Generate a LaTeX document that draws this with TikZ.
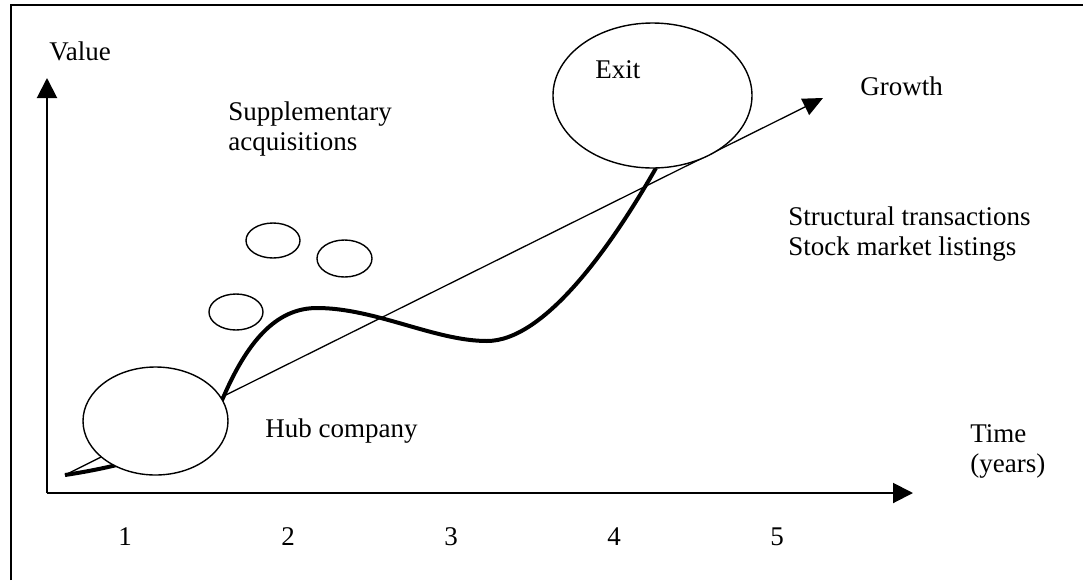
\documentclass[tikz,border=0pt]{standalone}
\usepackage{fontspec}
\setmainfont{Liberation Serif}
\usepackage{tikz}
\usetikzlibrary{shapes.geometric, arrows.meta, positioning, calc}

\begin{document}
\begin{tikzpicture}[
        x=0.5pt, y=-0.5pt,
        blob/.style={draw, ellipse, fill=white, line width=0.7pt, inner sep=0pt},
        axis/.style={-{Triangle[length=10pt, width=10pt]}, line width=1pt},
        trend/.style={-{Triangle[length=10pt, width=9pt]}, line width=0.65pt},
        value/.style={line width=2pt},
        txt/.style={anchor=base west, inner sep=0pt, font=\fontsize{13.5}{15}\selectfont}
    ]
        \useasboundingbox (0,0) rectangle (1083,580);
        \draw [line width=1pt] (11,580) -- (11,5) -- (1083,5);

        % axes
        \coordinate (origin) at (47,493);
        \coordinate (ytip) at (47,78);
        \coordinate (xtip) at (913,493);
        \draw [axis] (origin) -- (ytip);
        \draw [axis] (origin) -- (xtip);

        % growth line and value curve, drawn below the companies
        \coordinate (start) at (65,475);
        \coordinate (growthtip) at (823,98);
        \coordinate (hubout) at (223,398);
        \coordinate (exitin) at (656,168);
        \draw [trend] (start) -- (growthtip);
        \draw [value] (start) .. controls (150,462) and (205,440) .. (hubout)
            .. controls (250,335) and (280,308) .. (317,308)
            .. controls (375,308) and (435,341) .. (487,341)
            .. controls (545,341) and (612,245) .. (exitin);

        % companies
        \node (hub) [blob, minimum width=72.5pt, minimum height=54pt] at (155.5,421) {};
        \node (exit) [blob, minimum width=99.5pt, minimum height=72.5pt] at (652.5,95.5) {};
        \node (acqa) [blob, minimum width=27pt, minimum height=17.5pt] at (273,240.5) {};
        \node (acqb) [blob, minimum width=27.5pt, minimum height=18.5pt] at (344.5,258.5) {};
        \node (acqc) [blob, minimum width=27pt, minimum height=18pt] at (236,312) {};

        % labels
        \node (valuelbl) [txt] at (49,60) {Value};
        \node (supplbl) [txt, align=left] at (228,150) {Supplementary\\acquisitions};
        \node (exitlbl) [txt] at (595,78) {Exit};
        \node (growthlbl) [txt] at (860,95) {Growth};
        \node (structlbl) [txt, align=left] at (788,255) {Structural transactions\\Stock market listings};
        \node (hublbl) [txt] at (265,437) {Hub company};
        \node (timelbl) [txt, align=left] at (970,472) {Time\\(years)};

        % years
        \foreach \yr [count=\i from 0] in {1,...,5}
            \node (yr\yr) [txt, anchor=center] at (125+163*\i,537) {\yr};
    \end{tikzpicture}
\end{document}
